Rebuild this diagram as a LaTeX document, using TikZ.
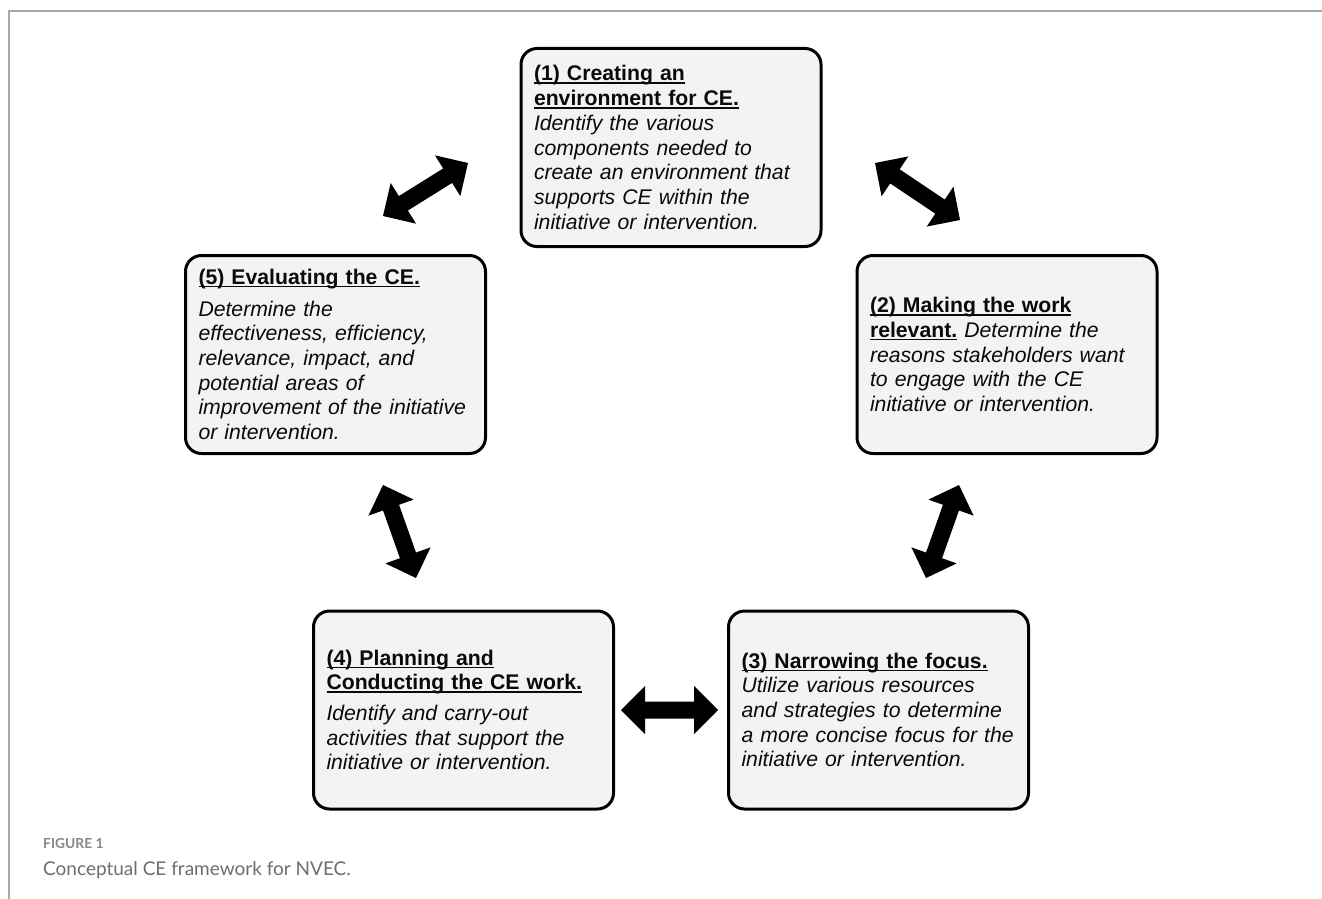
\documentclass[tikz,border=0pt]{standalone}
\usepackage{fontspec}
\setmainfont{Liberation Sans}
\newfontfamily\capfont{Lato}
\usetikzlibrary{calc}
\definecolor{boxfill}{HTML}{F3F3F3}
\definecolor{framegray}{HTML}{A8A8A8}
\definecolor{capgray}{HTML}{6E6E6E}
\definecolor{figgray}{HTML}{888888}
\definecolor{ink}{HTML}{0A0A0A}
\newsavebox\ulsave
\newcommand\ttl[1]{\sbox\ulsave{\bfseries #1}\leavevmode\rlap{\rule[-3pt]{\wd\ulsave}{1.5pt}}\usebox\ulsave}
\newcommand\darrow[2]{%
  \fill[black] (#1) -- ($(#1)!24pt!(#2)!24pt!90:(#2)$) -- ($(#1)!24pt!(#2)!8.5pt!90:(#2)$)
    -- ($(#2)!24pt!(#1)!8.5pt!-90:(#1)$) -- ($(#2)!24pt!(#1)!24pt!-90:(#1)$) -- (#2)
    -- ($(#2)!24pt!(#1)!24pt!90:(#1)$) -- ($(#2)!24pt!(#1)!8.5pt!90:(#1)$)
    -- ($(#1)!24pt!(#2)!8.5pt!-90:(#2)$) -- ($(#1)!24pt!(#2)!24pt!-90:(#2)$) -- cycle;}
\tikzset{
  stagebox/.style={draw=black, line width=3pt, rounded corners=16pt, fill=boxfill, text=ink,
    text width=274pt, align=left, inner xsep=13pt, inner ysep=0pt, minimum height=198pt,
    font=\fontsize{21.2}{24.7}\selectfont},
  caplabel/.style={anchor=base west, inner sep=0pt}
}
\begin{document}
\begin{tikzpicture}[x=1pt,y=-1pt]
\useasboundingbox (0,0) rectangle (1322,899);
\fill[white] (0,0) rectangle (1322,899);
\draw[framegray, line width=1.5pt] (9,899) -- (9,11) -- (1322,11);

\node[stagebox] (b1) at (671,147.5) {\ttl{(1) Creating an}\\\ttl{environment for CE.}\\\itshape Identify the various\\components needed to\\create an environment that\\supports CE within the\\initiative or intervention.};
\node[stagebox] (b2) at (1007,354.5) {\ttl{(2) Making the work}\\\ttl{relevant.} \itshape Determine the\\reasons stakeholders want\\to engage with the CE\\initiative or intervention.};
\node[stagebox] (b3) at (878.5,710) {\ttl{(3) Narrowing the focus.}\\\itshape Utilize various resources\\and strategies to determine\\a more concise focus for the\\initiative or intervention.};
\node[stagebox] (b4) at (463.5,710) {\ttl{(4) Planning and}\\\ttl{Conducting the CE work.}\\[6pt]\itshape Identify and carry-out\\activities that support the\\initiative or intervention.};
\node[stagebox] (b5) at (335.5,354.5) {\ttl{(5) Evaluating the CE.}\\[7pt]\itshape Determine the\\effectiveness, efficiency,\\relevance, impact, and\\potential areas of\\improvement of the initiative\\or intervention.};

\coordinate (a51s) at (383,216);
\coordinate (a51e) at (468,163);
\coordinate (a12s) at (875,163);
\coordinate (a12e) at (960,220);
\coordinate (a23s) at (959,485);
\coordinate (a23e) at (926,578);
\coordinate (a54s) at (383,485);
\coordinate (a54e) at (416,578);
\coordinate (a43s) at (621,710);
\coordinate (a43e) at (718,710);
\darrow{a51s}{a51e}
\darrow{a12s}{a12e}
\darrow{a23s}{a23e}
\darrow{a54s}{a54e}
\darrow{a43s}{a43e}

\node[caplabel, font=\capfont\bfseries\fontsize{13.8}{16}\selectfont, text=figgray] (figlbl) at (43,848) {FIGURE 1};
\node[caplabel, font=\capfont\fontsize{19}{22}\selectfont, text=capgray] (figcap) at (43,875) {Conceptual CE framework for NVEC.};
\end{tikzpicture}
\end{document}
